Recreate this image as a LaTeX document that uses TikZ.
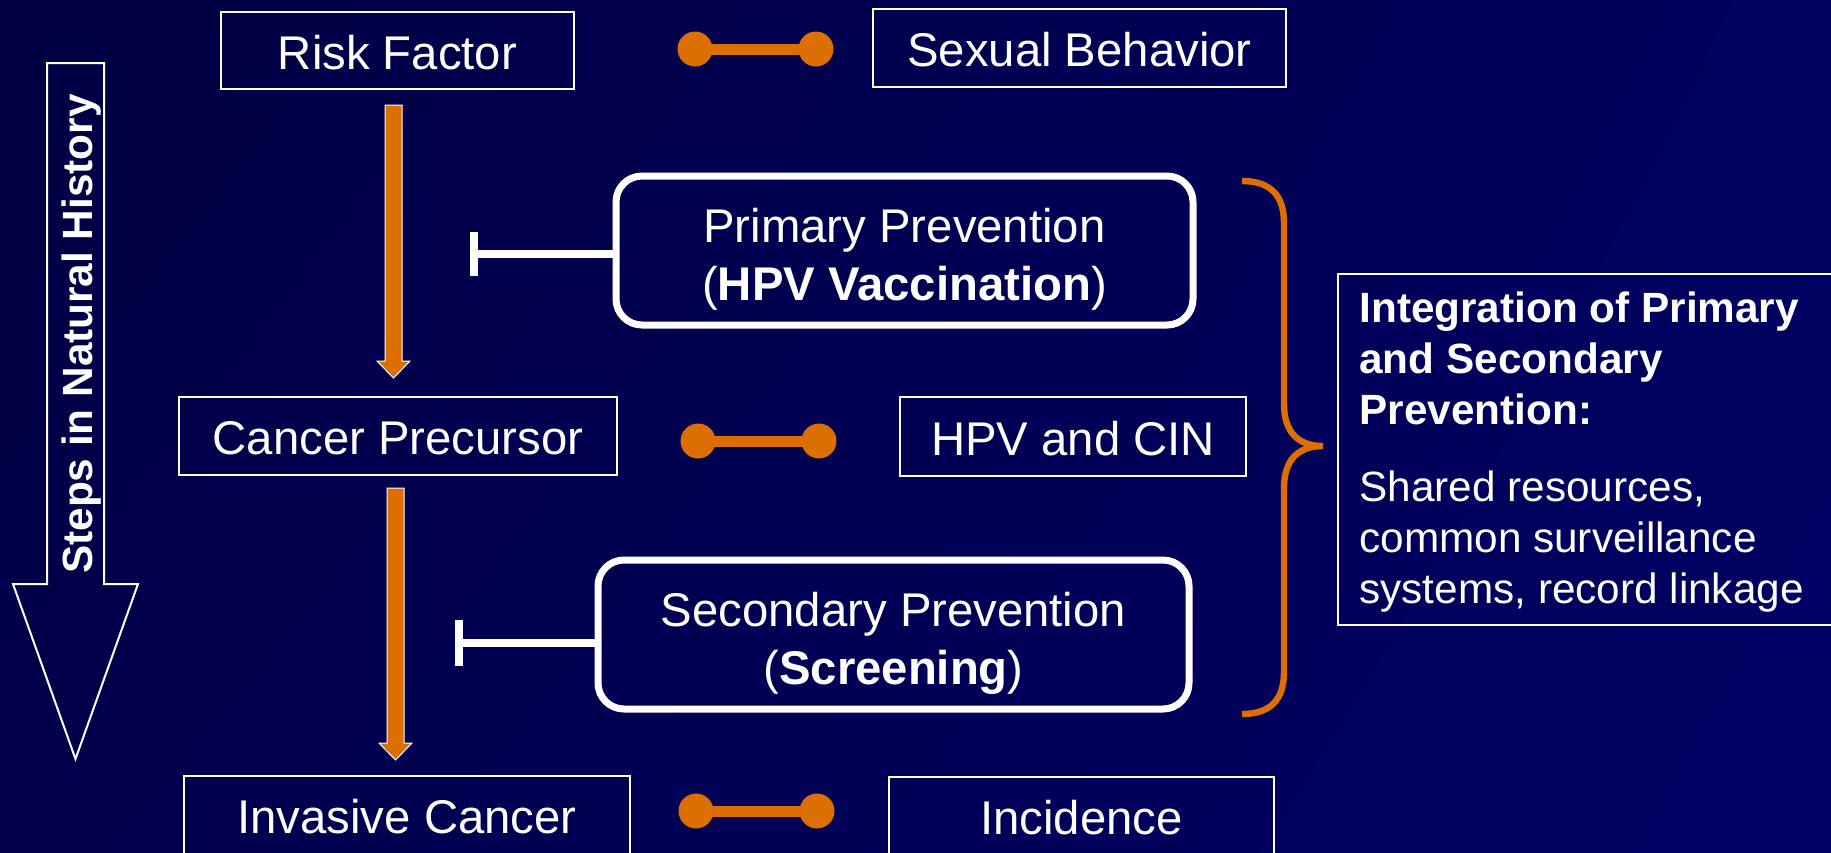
\documentclass[tikz,border=0pt]{standalone}
\usepackage{fontspec}
\setmainfont{Liberation Sans}
\usetikzlibrary{calc,shadings}
\definecolor{orng}{RGB}{221,111,0}
\definecolor{bgTL}{RGB}{0,0,66}
\definecolor{bgTR}{RGB}{0,0,94}
\definecolor{bgBL}{RGB}{0,0,76}
\definecolor{bgBR}{RGB}{0,0,100}
\newcommand\mainfs{\fontsize{23.65pt}{29pt}\selectfont}
\newcommand\sidefs{\fontsize{21.15pt}{25.5pt}\selectfont}
\begin{document}
\begin{tikzpicture}[x=0.5pt,y=-0.5pt,
  stepbox/.style={draw=white, line width=0.9pt, text=white, inner sep=0pt,
    text height=18.5pt, text depth=0pt, font=\mainfs},
  rbox/.style={draw=white, line width=3.5pt, rounded corners=13pt, text=white,
    inner sep=0pt, text height=20pt, text depth=28.5pt, font=\mainfs},
  inhib/.style={draw=white, line width=4pt},
  dumb/.style={draw=orng, line width=5.5pt},
  blockarrow/.style={draw=white, line width=0.5pt, fill=orng},
  bigarrow/.style={draw=white, line width=1pt},
  bracestyle/.style={draw=orng, line width=3.2pt, line cap=butt},
  sidebox/.style={draw=white, line width=0.9pt, inner sep=0pt}]
% background
\shade[upper left=bgTL, upper right=bgTR, lower left=bgBL, lower right=bgBR]
  (0,0) rectangle (1831,852);
\useasboundingbox (0,0) rectangle (1831,852);

% left big arrow
\draw[bigarrow] (47,63) -- (104,63) -- (104,584) -- (138,584) -- (75.5,759)
  -- (13,584) -- (47,584) -- cycle;
\node[rotate=90, anchor=base, text=white, inner sep=0pt,
  font=\fontsize{21.15pt}{25pt}\selectfont\bfseries] (steps) at (92,334)
  {Steps in Natural History};

% step boxes
\node[stepbox, minimum width=176.5pt, minimum height=38.5pt] (rf) at (397.5,50.5) {Risk Factor};
\node[stepbox, minimum width=206.5pt, minimum height=39pt] (sb) at (1079.5,48) {Sexual Behavior};
\node[stepbox, minimum width=219pt, minimum height=39pt] (cp) at (398,436) {Cancer Precursor};
\node[stepbox, minimum width=173pt, minimum height=39.5pt] (hc) at (1073,436.5) {HPV and CIN};
\node[stepbox, minimum width=223pt, minimum height=39pt] (ic) at (407,815) {Invasive Cancer};
\node[stepbox, minimum width=192.5pt, minimum height=39pt] (inc) at (1081.5,816) {Incidence};

% prevention boxes
\node[rbox, minimum width=288.5pt, minimum height=74.5pt] (pp) at (904.5,250.5)
  {\begin{tabular}[t]{@{}c@{}}Primary Prevention\\(\textbf{HPV Vaccination})\end{tabular}};
\node[rbox, minimum width=295.5pt, minimum height=74.5pt] (sp) at (893.5,634.5)
  {\begin{tabular}[t]{@{}c@{}}Secondary Prevention\\(\textbf{Screening})\end{tabular}};

% block arrows
\coordinate (a1s) at (393.5,105);
\coordinate (a1e) at (393.5,378);
\coordinate (a2s) at (395.5,488);
\coordinate (a2e) at (395.5,760);
\foreach \s/\e in {a1s/a1e, a2s/a2e}{
  \draw[blockarrow] ($(\s)+(-8.5,0)$) -- ($(\e)+(-8.5,-17)$) -- ($(\e)+(-16.5,-17)$)
    -- (\e) -- ($(\e)+(16.5,-17)$) -- ($(\e)+(8.5,-17)$) -- ($(\s)+(8.5,0)$) -- cycle;
}

% inhibitor connectors
\coordinate (inh1) at (474,254);
\coordinate (inh2) at (459,643);
\draw[inhib] (inh1) -- (inh1 -| pp.west);
\draw[inhib] ($(inh1)+(0,-22)$) -- ($(inh1)+(0,22)$);
\draw[inhib] (inh2) -- (inh2 -| sp.west);
\draw[inhib] ($(inh2)+(0,-23)$) -- ($(inh2)+(0,23)$);

% dumbbells
\coordinate (d1a) at (695,49);  \coordinate (d1b) at (816,49);
\coordinate (d2a) at (698,441); \coordinate (d2b) at (819,441);
\coordinate (d3a) at (696,811); \coordinate (d3b) at (817,811);
\foreach \p/\q in {d1a/d1b, d2a/d2b, d3a/d3b}{
  \draw[dumb] (\p) -- (\q);
  \fill[orng] (\p) circle[radius=8.75pt] (\q) circle[radius=8.75pt];
}

% brace
\coordinate (btop) at (1242,181);
\coordinate (btip) at (1323,446);
\coordinate (bbot) at (1242,714);
\draw[bracestyle] (btop) .. controls (1270,181) and (1284,195) .. (1284,223)
  -- (1284,404) .. controls (1284,432) and (1298,446) .. (btip)
  .. controls (1298,446) and (1284,460) .. (1284,488)
  -- (1284,672) .. controls (1284,700) and (1270,714) .. (bbot);

% integration box
\node[sidebox, anchor=north west, minimum width=252pt, minimum height=175.5pt] (ibox) at (1337,273) {};
\node[anchor=base west, inner sep=0pt, text=white, font=\sidefs] (itext) at (1359,322)
  {\begin{tabular}[t]{@{}l@{}}\textbf{Integration of Primary}\\\textbf{and Secondary}\\\textbf{Prevention:}\\[13pt]
  Shared resources,\\common surveillance\\systems, record linkage\end{tabular}};
\end{tikzpicture}
\end{document}
